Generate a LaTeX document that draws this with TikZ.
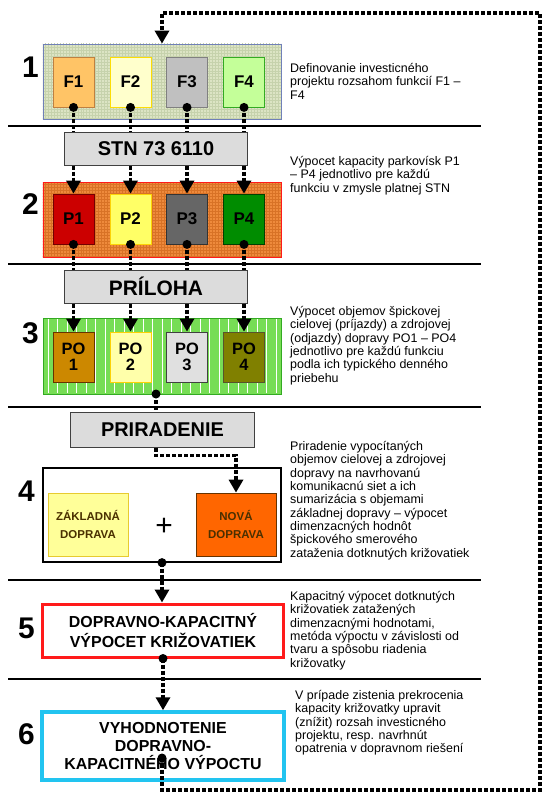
\documentclass[tikz,border=0pt]{standalone}
\usepackage{fontspec}
\setmainfont{Liberation Sans}
\usepackage{xcolor}
\definecolor{dkgridbg}{HTML}{DCE4C4}
\definecolor{dkgridln}{HTML}{C6D2AC}
\definecolor{dkblue}{HTML}{7080B8}
\definecolor{dkorange}{HTML}{EE8A3C}
\definecolor{dkorangeln}{HTML}{D87226}
\definecolor{dkgreen}{HTML}{77DD55}
\definecolor{dkgreenln}{HTML}{33AA22}
\definecolor{dkgreybg}{HTML}{DCDCDC}
\definecolor{dkgreyln}{HTML}{404040}
\definecolor{dkred}{HTML}{FF1A1A}
\definecolor{dkcyan}{HTML}{22C4F0}
\definecolor{dkbrown}{HTML}{4A3000}
\definecolor{dkfa}{HTML}{FFC466}
\definecolor{dkfb}{HTML}{FFFFCC}
\definecolor{dkfc}{HTML}{C0C0C0}
\definecolor{dkfd}{HTML}{C4FF99}
\definecolor{dkpa}{HTML}{CC0000}
\definecolor{dkpb}{HTML}{FFFF66}
\definecolor{dkpc}{HTML}{666666}
\definecolor{dkpd}{HTML}{008C00}
\definecolor{dkoa}{HTML}{CC8800}
\definecolor{dkob}{HTML}{FFFFAA}
\definecolor{dkoc}{HTML}{E0E0E0}
\definecolor{dkod}{HTML}{808000}
\definecolor{dkzakl}{HTML}{FFFF99}
\definecolor{dknova}{HTML}{FF6600}
\usepackage{tikz}
\usetikzlibrary{arrows.meta,patterns,calc}
\tikzset{
  dkfun/.style={draw,line width=0.8bp,minimum width=41bp,minimum height=50bp,inner sep=0pt,align=center,font=\fontsize{17}{15}\selectfont\bfseries},
  dkvol/.style={dkfun,font=\fontsize{16.5}{16.5}\selectfont\bfseries},
  dkgrey/.style={draw=dkgreyln,fill=dkgreybg,line width=1bp,minimum width=182bp,minimum height=33bp,inner sep=0pt,font=\fontsize{20}{22}\selectfont\bfseries},
  dkstage/.style={minimum width=238bp,inner sep=0pt},
  dkmix/.style={minimum width=80bp,minimum height=63bp,inner sep=0pt,line width=0.8bp,align=center,text=dkbrown,font=\fontsize{11.5}{18}\selectfont\bfseries},
  dknum/.style={font=\fontsize{30}{30}\selectfont\bfseries,anchor=east,inner sep=0pt},
  dknote/.style={anchor=north west,inner sep=0pt,align=left,font=\fontsize{12.5}{13.4}\selectfont},
  dkflow/.style={line width=3.5bp,dash pattern=on 4bp off 2bp},
  dkarrow/.style={dkflow,-{Triangle[length=13bp,width=14bp]}},
  dkdot/.style={circle,fill=black,inner sep=0pt,minimum size=9bp},
  dksep/.style={line width=1.5bp},
}

\begin{document}
\begin{tikzpicture}[x=1bp,y=-1bp]
\useasboundingbox (0,0) rectangle (550,797);
% section separators
\foreach \y in {126,264,407,580,679}
  \draw[dksep] (8,\y) -- (481,\y);

% 1 - functions
\node[dkstage,draw=dkblue,line width=0.8bp,preaction={fill=dkgridbg},pattern=grid,pattern color=dkgridln,minimum height=75bp] (b1) at (162,81.5) {};
\node[dkfun,fill=dkfa,draw=brown] (f1) at (73.5,82) {F1};
\node[dkfun,fill=dkfb,draw=yellow!80!orange] (f2) at (130.5,82) {F2};
\node[dkfun,fill=dkfc,draw=gray] (f3) at (187,82) {F3};
\node[dkfun,fill=dkfd,draw=dkgreenln] (f4) at (244,82) {F4};
\node[dknum] (n1) at (39,67) {1};
\node[dknote] (t1) at (290,63) {Definovanie investicného\\projektu rozsahom funkcií F1 –\\F4};

\node[dkgrey] (stn) at (156,148.5) {STN 73 6110};

% 2 - parking
\node[dkstage,draw=dkred,line width=0.8bp,preaction={fill=dkorange},pattern=grid,pattern color=dkorangeln,minimum height=75bp] (b2) at (162,219.5) {};
\node[dkfun,fill=dkpa,draw=red!45!black] (p1) at (73.5,219) {P1};
\node[dkfun,fill=dkpb,draw=yellow!70!orange] (p2) at (130.5,219) {P2};
\node[dkfun,fill=dkpc,draw=black!80] (p3) at (187,219) {P3};
\node[dkfun,fill=dkpd,draw=green!25!black] (p4) at (244,219) {P4};
\node[dknum] (n2) at (39,204) {2};
\node[dknote] (t2) at (290,156) {Výpocet kapacity parkovísk P1\\– P4 jednotlivo pre každú\\funkciu v zmysle platnej STN};

\node[dkgrey,font=\fontsize{21}{22}\selectfont\bfseries] (prl) at (156,286.5) {PRÍLOHA};

% 3 - volumes
\node[dkstage,draw=dkgreenln,line width=0.8bp,fill=dkgreen,minimum height=76bp] (b3) at (162,356) {};
\foreach \x in {48,57.5,...,280}
  \draw[white,line width=0.8bp] (\x,318.8) -- (\x,393.2);
\node[dkvol,fill=dkoa,draw=orange!40!black] (po1) at (73.5,357) {PO\\1};
\node[dkvol,fill=dkob,draw=yellow!70!orange] (po2) at (130.5,357) {PO\\2};
\node[dkvol,fill=dkoc,draw=dkgreyln] (po3) at (187,357) {PO\\3};
\node[dkvol,fill=dkod,draw=olive!50!black] (po4) at (244,357) {PO\\4};
\node[dknum] (n3) at (39,333) {3};
\node[dknote] (t3) at (290,306) {Výpocet objemov špickovej\\cielovej (príjazdy) a zdrojovej\\(odjazdy) dopravy PO1 – PO4\\jednotlivo pre každú funkciu\\podla ich typického denného\\priebehu};

\node[dkgrey,minimum width=183bp,minimum height=35bp] (prd) at (162.5,429.5) {PRIRADENIE};

% 4 - assignment
\node[dkstage,draw,line width=1.2bp,minimum height=94bp] (b4) at (162,515) {};
\node[dkmix,fill=dkzakl,draw=yellow!60!brown] (zakl) at (88,524.5) {ZÁKLADNÁ\\DOPRAVA};
\node[dkmix,fill=dknova,draw=orange!40!black] (nova) at (236,524.5) {NOVÁ\\DOPRAVA};
\node[font=\fontsize{30}{30}\selectfont] (plus) at (164,527) {+};
\node[dknum] (n4) at (35,491) {4};
\node[dknote] (t4) at (290,441) {Priradenie vypocítaných\\objemov cielovej a zdrojovej\\dopravy na navrhovanú\\komunikacnú siet a ich\\sumarizácia s objemami\\základnej dopravy – výpocet\\dimenzacných hodnôt\\špickového smerového\\zataženia dotknutých križovatiek};

% 5 - capacity
\node[draw=dkred,line width=3bp,minimum width=240bp,minimum height=53bp,align=center,font=\fontsize{16}{20}\selectfont\bfseries] (b5) at (163,630.5) {DOPRAVNO-KAPACITNÝ\\VÝPOCET KRIŽOVATIEK};
\node[dknum] (n5) at (35,628) {5};
\node[dknote] (t5) at (290,591) {Kapacitný výpocet dotknutých\\križovatiek zatažených\\dimenzacnými hodnotami,\\metóda výpoctu v závislosti od\\tvaru a spôsobu riadenia\\križovatky};

% 6 - evaluation
\node[draw=dkcyan,line width=3.5bp,minimum width=242bp,minimum height=68bp,align=center,font=\fontsize{16}{18.5}\selectfont\bfseries] (b6) at (163,746) {VYHODNOTENIE\\DOPRAVNO-\\KAPACITNÉHO VÝPOCTU};
\node[dknum] (n6) at (35,734) {6};
\node[dknote] (t6) at (295,690) {V prípade zistenia prekrocenia\\kapacity križovatky upravit\\(znížit) rozsah investicného\\projektu, resp. navrhnút\\opatrenia v dopravnom riešení};

% flows
\foreach \c in {f1,f2,f3,f4}
  \draw[dkflow] (\c.south) node[dkdot]{} -- (\c.south |- stn.north);
\foreach \c in {p1,p2,p3,p4}
  \draw[dkarrow] (\c.north |- stn.south) -- (\c.north);
\foreach \c in {p1,p2,p3,p4}
  \draw[dkflow] (\c.south) node[dkdot]{} -- (\c.south |- prl.north);
\foreach \c in {po1,po2,po3,po4}
  \draw[dkarrow] (\c.north |- prl.south) -- (\c.north);
\coordinate (c3) at (156,394);
\draw[dkflow] (c3) node[dkdot]{} -- (c3 |- prd.north);
\draw[dkarrow] (c3 |- prd.south) -- ++(0,8) -| (nova.north);
\draw[dkarrow] (b4.south) node[dkdot]{} -- (b4.south |- b5.north);
\draw[dkarrow] (b5.south) node[dkdot]{} -- (b5.south |- b6.north);
\coordinate (loopstart) at (162,758);
\coordinate (loopcorner) at (540,13);
\draw[dkarrow] (loopstart) node[dkdot]{} -- ++(0,32) -| (loopcorner) -| (b1.north);
\end{tikzpicture}
\end{document}
